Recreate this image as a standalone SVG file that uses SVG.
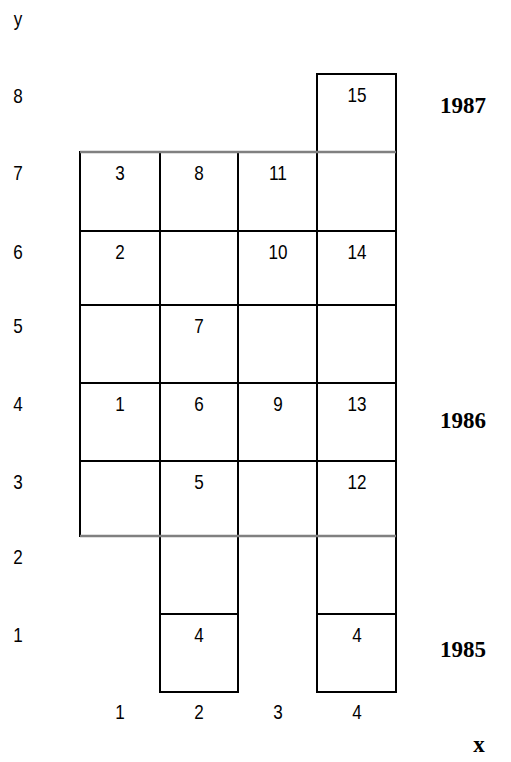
<svg xmlns="http://www.w3.org/2000/svg" width="511" height="762" viewBox="0 0 511 762">
<style>
.c{fill:#fff;stroke:#000;stroke-width:2}
.n{font-family:"Liberation Sans Narrow","Arial Narrow","Liberation Sans",sans-serif;font-size:21px;fill:#000;text-anchor:middle}
.yr{font-family:"Liberation Serif",serif;font-weight:bold;font-size:23px;fill:#000;text-anchor:middle}
.g{stroke:#808080;stroke-width:2.5;fill:none}
</style>
<rect width="511" height="762" fill="#fff"/>
<g id="axes">
<text class="n" x="18" y="26" textLength="8.5" lengthAdjust="spacingAndGlyphs">y</text>
<text class="n" x="18" y="103" textLength="9.5" lengthAdjust="spacingAndGlyphs">8</text>
<text class="n" x="18" y="180" textLength="9.5" lengthAdjust="spacingAndGlyphs">7</text>
<text class="n" x="18" y="259" textLength="9.5" lengthAdjust="spacingAndGlyphs">6</text>
<text class="n" x="18" y="333" textLength="9.5" lengthAdjust="spacingAndGlyphs">5</text>
<text class="n" x="18" y="411" textLength="9.5" lengthAdjust="spacingAndGlyphs">4</text>
<text class="n" x="18" y="489" textLength="9.5" lengthAdjust="spacingAndGlyphs">3</text>
<text class="n" x="18" y="564" textLength="9.5" lengthAdjust="spacingAndGlyphs">2</text>
<text class="n" x="18" y="642" textLength="9.5" lengthAdjust="spacingAndGlyphs">1</text>
<text class="n" x="120" y="719" textLength="9.5" lengthAdjust="spacingAndGlyphs">1</text>
<text class="n" x="199" y="719" textLength="9.5" lengthAdjust="spacingAndGlyphs">2</text>
<text class="n" x="278" y="719" textLength="9.5" lengthAdjust="spacingAndGlyphs">3</text>
<text class="n" x="357" y="719" textLength="9.5" lengthAdjust="spacingAndGlyphs">4</text>
<text class="yr" x="463" y="113">1987</text>
<text class="yr" x="463" y="428">1986</text>
<text class="yr" x="463" y="657">1985</text>
<text class="yr" x="479" y="752">x</text>
</g>
<g id="cell-4-8"><rect class="c" x="317" y="74" width="79" height="78"/><text class="n" x="357" y="102" textLength="19" lengthAdjust="spacingAndGlyphs">15</text></g>
<g id="cell-1-7"><rect class="c" x="80" y="152" width="80" height="79"/><text class="n" x="120" y="180" textLength="9.5" lengthAdjust="spacingAndGlyphs">3</text></g>
<g id="cell-2-7"><rect class="c" x="160" y="152" width="78" height="79"/><text class="n" x="199" y="180" textLength="9.5" lengthAdjust="spacingAndGlyphs">8</text></g>
<g id="cell-3-7"><rect class="c" x="238" y="152" width="79" height="79"/><text class="n" x="278" y="180" textLength="18" lengthAdjust="spacingAndGlyphs">11</text></g>
<g id="cell-4-7"><rect class="c" x="317" y="152" width="79" height="79"/></g>
<g id="cell-1-6"><rect class="c" x="80" y="231" width="80" height="74"/><text class="n" x="120" y="259" textLength="9.5" lengthAdjust="spacingAndGlyphs">2</text></g>
<g id="cell-2-6"><rect class="c" x="160" y="231" width="78" height="74"/></g>
<g id="cell-3-6"><rect class="c" x="238" y="231" width="79" height="74"/><text class="n" x="278" y="259" textLength="19" lengthAdjust="spacingAndGlyphs">10</text></g>
<g id="cell-4-6"><rect class="c" x="317" y="231" width="79" height="74"/><text class="n" x="357" y="259" textLength="19" lengthAdjust="spacingAndGlyphs">14</text></g>
<g id="cell-1-5"><rect class="c" x="80" y="305" width="80" height="78"/></g>
<g id="cell-2-5"><rect class="c" x="160" y="305" width="78" height="78"/><text class="n" x="199" y="333" textLength="9.5" lengthAdjust="spacingAndGlyphs">7</text></g>
<g id="cell-3-5"><rect class="c" x="238" y="305" width="79" height="78"/></g>
<g id="cell-4-5"><rect class="c" x="317" y="305" width="79" height="78"/></g>
<g id="cell-1-4"><rect class="c" x="80" y="383" width="80" height="78"/><text class="n" x="120" y="411" textLength="9.5" lengthAdjust="spacingAndGlyphs">1</text></g>
<g id="cell-2-4"><rect class="c" x="160" y="383" width="78" height="78"/><text class="n" x="199" y="411" textLength="9.5" lengthAdjust="spacingAndGlyphs">6</text></g>
<g id="cell-3-4"><rect class="c" x="238" y="383" width="79" height="78"/><text class="n" x="278" y="411" textLength="9.5" lengthAdjust="spacingAndGlyphs">9</text></g>
<g id="cell-4-4"><rect class="c" x="317" y="383" width="79" height="78"/><text class="n" x="357" y="411" textLength="19" lengthAdjust="spacingAndGlyphs">13</text></g>
<g id="cell-1-3"><rect class="c" x="80" y="461" width="80" height="75"/></g>
<g id="cell-2-3"><rect class="c" x="160" y="461" width="78" height="75"/><text class="n" x="199" y="489" textLength="9.5" lengthAdjust="spacingAndGlyphs">5</text></g>
<g id="cell-3-3"><rect class="c" x="238" y="461" width="79" height="75"/></g>
<g id="cell-4-3"><rect class="c" x="317" y="461" width="79" height="75"/><text class="n" x="357" y="489" textLength="19" lengthAdjust="spacingAndGlyphs">12</text></g>
<g id="cell-2-2"><rect class="c" x="160" y="536" width="78" height="78"/></g>
<g id="cell-4-2"><rect class="c" x="317" y="536" width="79" height="78"/></g>
<g id="cell-2-1"><rect class="c" x="160" y="614" width="78" height="78"/><text class="n" x="199" y="642" textLength="9.5" lengthAdjust="spacingAndGlyphs">4</text></g>
<g id="cell-4-1"><rect class="c" x="317" y="614" width="79" height="78"/><text class="n" x="357" y="642" textLength="9.5" lengthAdjust="spacingAndGlyphs">4</text></g>
<g id="connectors">
<line class="g" x1="80" y1="152" x2="396" y2="152"/>
<line class="g" x1="80" y1="536" x2="396" y2="536"/>
</g>
</svg>
